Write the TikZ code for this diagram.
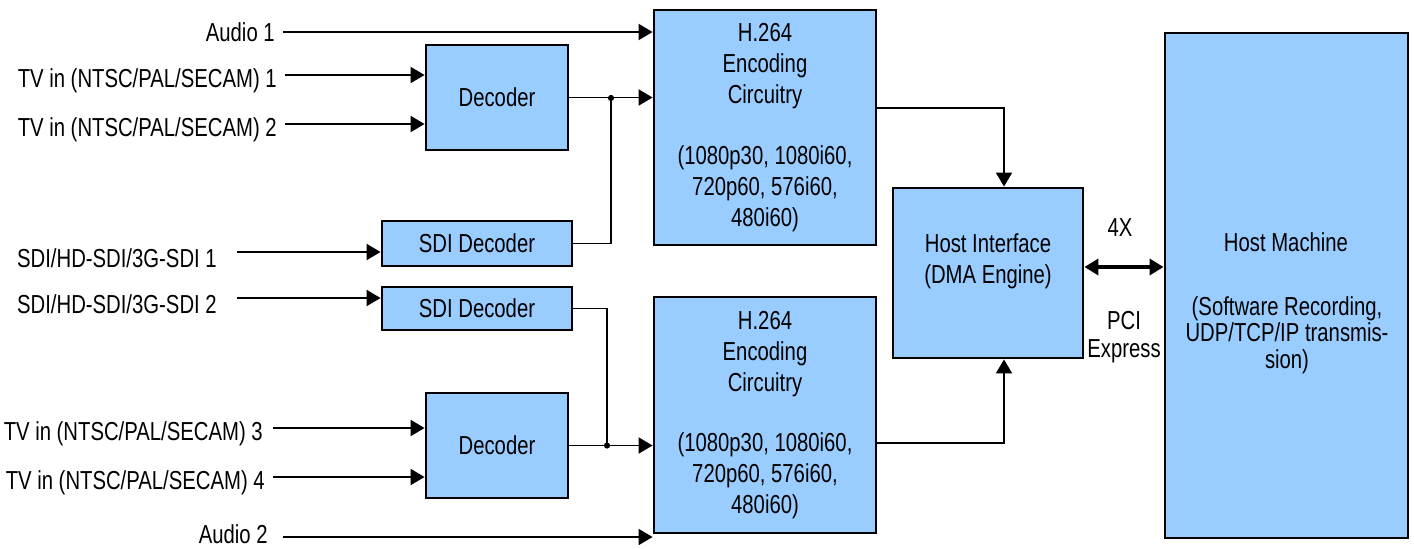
\documentclass[tikz,border=0pt]{standalone}
\usepackage{fontspec}
\setmainfont{Liberation Sans}[FakeStretch=0.78]
\usetikzlibrary{arrows.meta}
\definecolor{boxblue}{RGB}{153,204,255}
\begin{document}
\begin{tikzpicture}[x=0.025cm,y=-0.025cm,font=\fontsize{18.5}{22}\selectfont,
    blk/.style={draw,line width=2pt,fill=boxblue,align=center,inner sep=0pt},
    lbl/.style={anchor=east,inner xsep=0.2cm,inner ysep=0pt,text height=17.4pt,text depth=0pt},
    wire/.style={line width=1.4pt},
    conn/.style={line width=1.4pt,-{Triangle[length=0.35cm,width=0.4cm]}},
    pcie/.style={line width=3pt,{Triangle[length=0.35cm,width=0.4cm]}-{Triangle[length=0.35cm,width=0.4cm]}}]
      \useasboundingbox (0,0) rectangle (1414,548);

      \node[blk,minimum width=5.55cm,minimum height=5.875cm] (enc1) at (765,127.5)
        {H.264\\Encoding\\Circuitry\\[21pt](1080p30, 1080i60,\\720p60, 576i60,\\480i60)};
      \node[blk,minimum width=5.55cm,minimum height=5.9cm] (enc2) at (765,415)
        {H.264\\Encoding\\Circuitry\\[21pt](1080p30, 1080i60,\\720p60, 576i60,\\480i60)};
      \node[blk,minimum width=3.55cm,minimum height=2.625cm] (dec1) at (497,97.5) {Decoder};
      \node[blk,minimum width=3.55cm,minimum height=2.625cm] (dec2) at (497,445.5) {Decoder};
      \node[blk,minimum width=4.75cm,minimum height=1.125cm] (sdi1) at (477,243.5) {SDI Decoder};
      \node[blk,minimum width=4.75cm,minimum height=1.075cm] (sdi2) at (477,308.5) {SDI Decoder};
      \node[blk,minimum width=4.75cm,minimum height=4.25cm] (hi) at (988,273) {};
      \node[blk,minimum width=6.075cm,minimum height=12.625cm] (hm) at (1286.5,285.5) {};

      \node[align=center] (hitxt) at (988,261) {Host Interface\\(DMA Engine)};
      \node (hmtitle) at (1286,242) {Host Machine};
      \node[align=center,font=\fontsize{18.5}{19}\selectfont] (hmtxt) at (1287,335)
        {(Software Recording,\\UDP/TCP/IP transmis-\\sion)};
      \node (fourx) at (1120,228) {4X};
      \node[align=center,font=\fontsize{18.5}{20}\selectfont] (pci) at (1124,337) {PCI\\Express};

      \node[lbl,text height=13pt] (au1) at (283,32) {Audio 1};
      \node[lbl] (tv1) at (285,75) {TV in (NTSC/PAL/SECAM) 1};
      \node[lbl] (tv2) at (285,124) {TV in (NTSC/PAL/SECAM) 2};
      \node[lbl,inner xsep=0.5cm,text height=21.6pt] (sd1) at (237,252) {SDI/HD-SDI/3G-SDI 1};
      \node[lbl,inner xsep=0.5cm,text height=21.6pt] (sd2) at (237,298) {SDI/HD-SDI/3G-SDI 2};
      \node[lbl,inner xsep=0.25cm] (tv3) at (273,428) {TV in (NTSC/PAL/SECAM) 3};
      \node[lbl,inner xsep=0.2cm] (tv4) at (273,477) {TV in (NTSC/PAL/SECAM) 4};
      \node[lbl,inner xsep=0.375cm,text height=9pt] (au2) at (283,537) {Audio 2};

      \coordinate (j1) at (611,98);
      \coordinate (j2) at (607,445.5);

      \draw[conn] (au1.east) -- (au1.east -| enc1.west);
      \draw[conn] (tv1.east) -- (tv1.east -| dec1.west);
      \draw[conn] (tv2.east) -- (tv2.east -| dec1.west);
      \draw[conn] (sd1.east) -- (sd1.east -| sdi1.west);
      \draw[conn] (sd2.east) -- (sd2.east -| sdi2.west);
      \draw[conn] (tv3.east) -- (tv3.east -| dec2.west);
      \draw[conn] (tv4.east) -- (tv4.east -| dec2.west);
      \draw[conn] (au2.east) -- (au2.east -| enc2.west);

      \draw[conn] (dec1.east) -- (dec1.east -| enc1.west);
      \draw[conn] (dec2.east) -- (dec2.east -| enc2.west);
      \draw[wire] (sdi1.east) -| (j1);
      \draw[wire] (sdi2.east) -| (j2);
      \fill (j1) circle (2.2pt);
      \fill (j2) circle (2.2pt);

      \draw[conn] (enc1.east |- 0,108) -| ([xshift=0.4cm]hi.north);
      \draw[conn] (enc2.east |- 0,443) -| ([xshift=0.4cm]hi.south);
      \draw[pcie] (hi.east |- 0,267) -- (hm.west |- 0,267);
    \end{tikzpicture}
\end{document}
